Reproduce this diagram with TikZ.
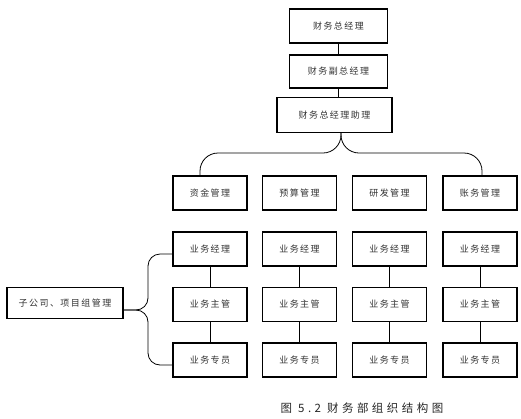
\documentclass[tikz,border=0pt]{standalone}
\usepackage{fontspec}
\newfontfamily\cjk[LetterSpace=16]{Noto Sans CJK SC}
\newfontfamily\capfont[LetterSpace=30]{Noto Sans CJK SC}
\begin{document}
\begin{tikzpicture}[x=1pt, y=-1pt,
				box/.style={draw, line width=1.2pt, minimum width=74pt, minimum height=34pt, inner sep=0pt,
					text=black!80, font=\cjk\fontsize{9}{9}\selectfont},
				link/.style={line width=0.8pt}]
				\useasboundingbox (0,0) rectangle (521,418);
				
				% --- 1. 上层 ---
				\node[box, minimum width=98pt] (gm) at (338.5,26) {财务总经理};
				\node[box, minimum width=98pt, minimum height=33pt] (vgm) at (338.5,71.5) {财务副总经理};
				\node[box, minimum width=115pt, minimum height=35pt] (asst) at (334.5,115) {财务总经理助理};
				
				% --- 2. 四个管理部门 ---
				\node[box] (fund) at (210,193) {资金管理};
				\node[box] (budget) at (299.5,193) {预算管理};
				\node[box] (rd) at (389.5,193) {研发管理};
				\node[box] (acct) at (480,193) {账务管理};
				
				% --- 3. 业务人员 (四列) ---
				\foreach \i/\x in {1/210, 2/299.5, 3/389.5, 4/480} {
					\node[box] (m\i) at (\x,249) {业务经理};
					\node[box] (s\i) at (\x,304.5) {业务主管};
					\node[box] (p\i) at (\x,360) {业务专员};
					\draw[link] (m\i) -- (s\i) -- (p\i);
				}
				
				% --- 4. 子公司 ---
				\node[box, minimum width=116pt, minimum height=31pt] (sub) at (65,303) {子公司、项目组管理};
				
				% --- 5. 连线 ---
				\draw[link] (gm) -- (vgm);
				\draw[link] (vgm.south) -- (vgm.south |- asst.north);
				
				\coordinate (jt) at (341,153);
				\draw[link, rounded corners=18pt] (asst.south -| jt) -- (jt) -| ([xshift=-10pt]fund.north);
				\draw[link, rounded corners=18pt] (asst.south -| jt) -- (jt) -| ([xshift=2pt]acct.north);
				
				\coordinate (jl) at (148,310);
				\draw[link, rounded corners=12pt] (sub.east |- jl) -- (jl) |- ([yshift=-5pt]m1.west);
				\draw[link, rounded corners=12pt] (sub.east |- jl) -- (jl) |- ([yshift=-5pt]p1.west);
				
				% --- 6. 图题 ---
				\node[font=\capfont\fontsize{11.5}{11.5}\selectfont, text=black!85] (cap) at (362,408) {图 5.2 财务部组织结构图};
				
			\end{tikzpicture}
\end{document}
